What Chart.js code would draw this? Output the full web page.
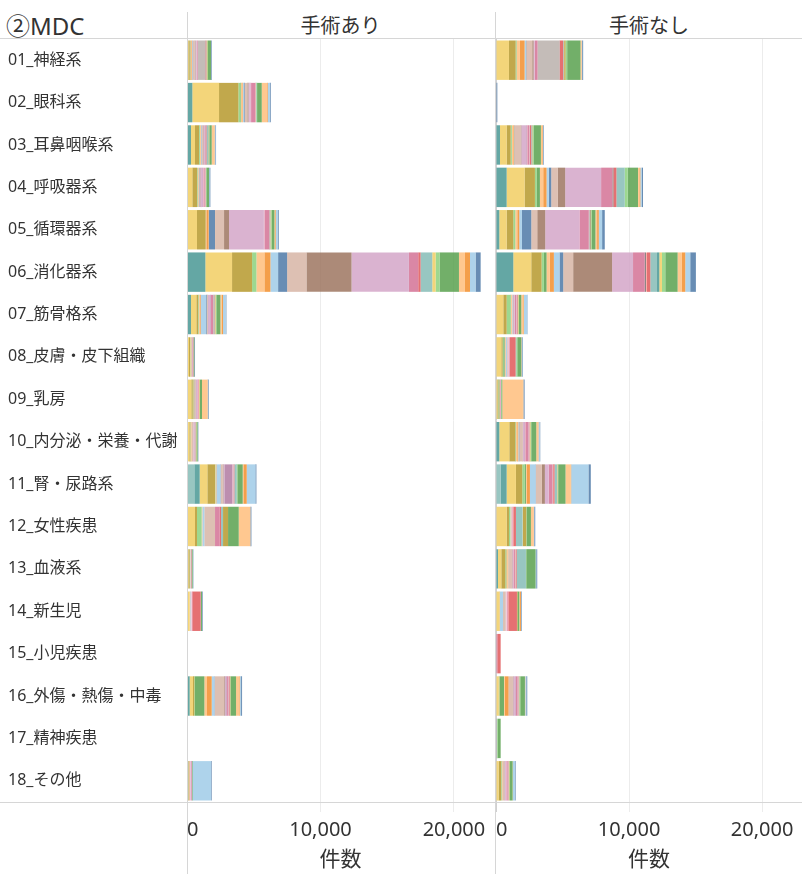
<!DOCTYPE html>
<html lang="ja">
<head>
<meta charset="utf-8">
<title>MDC別 件数</title>
<script src="https://cdn.jsdelivr.net/npm/chart.js@4/dist/chart.umd.min.js"></script>
<style>
  html, body { margin: 0; padding: 0; background: #fff; }
  body { width: 802px; height: 874px; position: relative; overflow: hidden;
         font-family: 'Noto Sans', 'Noto Sans CJK JP', sans-serif; color: #333; }
  canvas { position: absolute; top: 38px; }
  #leftChart { left: 0; }
  #rightChart { left: 494px; }
  .rule { position: absolute; background: #d6d6d6; }
  .head { position: absolute; top: 10px; height: 32px; line-height: 32px; white-space: nowrap; }
</style>
</head>
<body>
<div class="head" style="left:6px; font-size:24px;">②MDC</div>
<div class="head" style="left:187px; width:307px; text-align:center; font-size:20px;">手術あり</div>
<div class="head" style="left:496px; width:306px; text-align:center; font-size:20px;">手術なし</div>

<canvas id="leftChart" width="494" height="836"></canvas>
<canvas id="rightChart" width="308" height="836"></canvas>

<div class="rule" style="left:0; top:38px; width:802px; height:1px;"></div>
<div class="rule" style="left:0; top:802px; width:802px; height:1px;"></div>
<div class="rule" style="left:187px; top:12px; width:1px; height:862px;"></div>
<div class="rule" style="left:495px; top:12px; width:1px; height:862px;"></div>

<script>
// MDC categories (rows)
const categories = [
  '01_神経系', '02_眼科系', '03_耳鼻咽喉系', '04_呼吸器系', '05_循環器系', '06_消化器系',
  '07_筋骨格系', '08_皮膚・皮下組織', '09_乳房', '10_内分泌・栄養・代謝', '11_腎・尿路系',
  '12_女性疾患', '13_血液系', '14_新生児', '15_小児疾患', '16_外傷・熱傷・中毒',
  '17_精神疾患', '18_その他'
];

const xTickValues = [0, 10000, 20000];

// Colour cycle used for the stacked code segments (Tableau 20, walked in reverse)
const segmentPalette = [
  '#499894', '#F1CE63', '#B6992D', '#8CD17D', '#59A14F', '#FFBE7D', '#F28E2B',
  '#A0CBE8', '#4E79A7', '#D7B5A6', '#9D7660', '#D4A6C8', '#B07AA1', '#FABFD2',
  '#D37295', '#BAB0AC', '#79706E', '#FF9D9A', '#E15759', '#86BCB6'
];

// 手術あり: first palette slot of each row, then segment counts in stacking order
const surgeryStart = [1, 0, 0, 1, 1, 0, 0, 1, 0, 1, 19, 1, 1, 1, 0, 0, 0, 1];
const surgeryCounts = [
  [100,100,25,25,75,50,25,25,150,50,75,25,25,50,550,25,25,50,25,0,25,25,50,225,0,0,0,50],
  [400,2000,1450,150,50,100,50,75,50,200,75,100,50,50,300,0,0,25,25,50,0,0,0,50,350,400,50,150,75],
  [300,300,300,50,25,50,25,25,25,75,50,50,25,25,75,25,25,25,25,75,25,25,25,25,175,200,25,50,50],
  [400,350,25,25,50,25,25,25,50,25,150,50,25,100,25,0,25,25,25,0,0,0,25,200,0,0,25,75],
  [750,650,0,0,50,175,25,450,675,375,2600,25,25,350,25,25,0,25,25,0,25,25,50,200,50,50,150,75],
  [1375,2000,1500,325,0,600,450,575,675,1450,3375,4300,0,0,700,0,0,0,175,875,0,250,0,300,1450,450,375,425,375],
  [300,400,125,25,25,75,75,400,50,75,25,150,50,25,150,25,25,25,25,50,0,25,25,50,300,100,100,200,50],
  [150,75,25,0,50,25,25,0,25,0,25,0,0,50,0,0,0,25,0,0,0,0,25,50,0,0,0,50],
  [75,250,100,25,25,50,25,25,25,50,25,75,25,25,50,0,0,25,25,0,0,25,25,25,150,400,25,25,50],
  [175,75,25,0,50,25,25,0,100,0,50,25,25,25,25,0,0,25,25,0,0,25,25,75,0,0,25,25],
  [550,400,575,575,25,0,50,25,300,25,150,50,75,600,25,50,25,0,25,25,150,25,0,0,50,400,50,250,650,75],
  [600,150,350,0,50,0,150,0,800,0,0,0,0,350,0,0,0,100,150,0,0,375,0,800,875,0,0,75],
  [100,100,25,0,25,0,25,0,0,0,25,0,0,25,0,0,0,25,0,0,0,0,0,75,0,0,25,25],
  [200,0,0,0,25,0,25,0,50,0,25,0,50,25,0,0,0,625,25,0,0,0,0,75,0,0,0,50],
  [],
  [200,250,100,50,700,200,350,200,25,700,50,50,100,25,100,25,0,25,50,25,0,0,25,25,400,250,50,75,75],
  [],
  [50,25,0,25,25,50,0,0,50,0,50,0,25,50,25,0,0,0,25,0,0,0,0,50,0,0,1350,50]
];

// 手術なし
const noSurgeryStart = [1, 8, 0, 0, 0, 0, 1, 1, 1, 0, 19, 1, 0, 1, 14, 1, 14, 1];
const noSurgeryCounts = [
  [975,500,50,25,250,350,100,25,450,100,50,25,25,200,1625,25,25,250,50,0,25,100,125,1000,100,0,25,75],
  [100],
  [300,500,300,75,25,100,75,25,25,425,50,375,50,25,150,25,0,25,100,50,25,25,25,50,550,100,50,25,50],
  [800,1350,775,125,250,250,250,175,175,500,550,2700,0,0,850,0,75,0,225,625,0,0,0,225,775,100,75,100,100],
  [250,550,500,150,0,150,150,200,700,450,600,2575,0,0,700,75,50,0,0,0,0,0,50,50,275,125,125,250,200],
  [1300,1350,775,175,200,250,300,425,275,750,2925,1575,0,0,875,0,100,75,250,500,175,200,0,250,925,325,250,375,425],
  [550,250,300,25,50,25,25,0,50,25,75,25,25,100,25,0,25,50,25,0,25,25,25,175,150,50,250,25],
  [400,100,50,100,50,25,75,25,50,0,50,0,25,50,0,0,25,450,50,0,0,0,75,300,0,25,50,50],
  [100,75,25,50,0,25,0,0,25,0,25,0,0,25,0,0,0,25,0,0,0,0,25,75,1550,25,25,75],
  [250,750,450,25,25,100,75,50,25,250,25,100,50,25,250,25,0,25,25,25,0,25,25,50,375,150,25,75,50],
  [350,450,700,475,175,100,50,250,425,25,450,225,250,25,25,275,25,0,25,100,200,0,25,25,25,550,400,25,1300,175],
  [800,175,100,0,25,0,25,0,50,0,25,0,25,50,0,0,25,200,500,0,25,250,25,325,200,25,25,75],
  [150,250,300,50,25,100,50,25,0,250,25,50,25,25,100,25,0,25,75,700,0,0,0,25,700,0,0,50,75],
  [250,25,0,0,25,0,225,0,200,0,50,0,50,50,0,0,50,650,0,0,0,50,0,125,50,75,25,50],
  [100,0,0,0,250],
  [200,50,50,300,50,300,25,0,300,25,125,50,25,125,25,0,25,25,50,0,0,25,50,350,25,0,75,75],
  [50,0,0,0,0,25,0,0,0,50,225],
  [200,175,25,25,50,25,25,0,100,25,75,25,25,100,25,0,25,25,25,0,0,25,50,200,25,0,150,50]
];

const X_MAX = 23000;
const FONT = "'Noto Sans', 'Noto Sans CJK JP', sans-serif";
Chart.defaults.font.family = FONT;
Chart.defaults.color = '#333';

function withAlpha(hex, a) {
  const n = parseInt(hex.slice(1), 16);
  return `rgba(${(n >> 16) & 255},${(n >> 8) & 255},${n & 255},${a})`;
}

// One dataset per stacking position; each bar takes its colour from its own start slot.
function buildDatasets(starts, counts) {
  const depth = Math.max(...counts.map(r => r.length));
  const sets = [];
  for (let j = 0; j < depth; j++) {
    sets.push({
      data: counts.map(r => (j < r.length ? r[j] : 0)),
      backgroundColor: starts.map(s => withAlpha(segmentPalette[(s + j) % segmentPalette.length], 0.85)),
      borderWidth: 0,
      barPercentage: 1.0,
      categoryPercentage: 0.93
    });
  }
  return sets;
}

function xScale() {
  return {
    type: 'linear',
    stacked: true,
    min: 0,
    max: X_MAX,
    afterFit: s => { s.height = 72; s.paddingLeft = 0; s.paddingRight = 0; },
    // labelled ticks plus an unlabelled closing tick so the first label sits inside the panel
    afterBuildTicks: s => { s.ticks = xTickValues.concat([X_MAX]).map(v => ({ value: v })); },
    ticks: {
      font: { size: 20 },
      color: '#333',
      padding: 6,
      maxRotation: 0,
      align: 'inner',
      callback: v => (xTickValues.includes(v) ? v.toLocaleString('en-US') : '')
    },
    grid: {
      color: c => {
        if (!c.tick) return 'rgba(0,0,0,0)';
        if (c.tick.value === 0) return '#d0d0d0';
        return xTickValues.includes(c.tick.value) ? '#ececec' : 'rgba(0,0,0,0)';
      },
      lineWidth: 1,
      tickLength: 10,
      drawOnChartArea: true
    },
    border: { display: false },
    title: {
      display: true,
      text: '件数',
      font: { size: 21 },
      color: '#333',
      padding: { top: 0, bottom: 1 }
    }
  };
}

function baseOptions() {
  return {
    indexAxis: 'y',
    responsive: false,
    animation: false,
    events: [],
    plugins: { legend: { display: false }, tooltip: { enabled: false } }
  };
}

// 手術あり panel, carrying the category labels
const leftOpts = baseOptions();
leftOpts.layout = { padding: { left: 8, top: 1, right: 0, bottom: 0 } };
leftOpts.scales = {
  x: xScale(),
  y: {
    type: 'category',
    stacked: true,
    afterFit: s => { s.width = 179; s.paddingTop = 0; s.paddingBottom = 0; },
    ticks: { crossAlign: 'far', font: { size: 16 }, color: '#333', padding: 0 },
    grid: { display: false },
    border: { display: false }
  }
};
new Chart(document.getElementById('leftChart'), {
  type: 'bar',
  data: { labels: categories, datasets: buildDatasets(surgeryStart, surgeryCounts) },
  options: leftOpts
});

// 手術なし panel
const rightOpts = baseOptions();
rightOpts.layout = { padding: { left: 2, top: 1, right: 0, bottom: 0 } };
rightOpts.scales = {
  x: xScale(),
  y: { type: 'category', stacked: true, display: false }
};
new Chart(document.getElementById('rightChart'), {
  type: 'bar',
  data: { labels: categories, datasets: buildDatasets(noSurgeryStart, noSurgeryCounts) },
  options: rightOpts
});
</script>
</body>
</html>
